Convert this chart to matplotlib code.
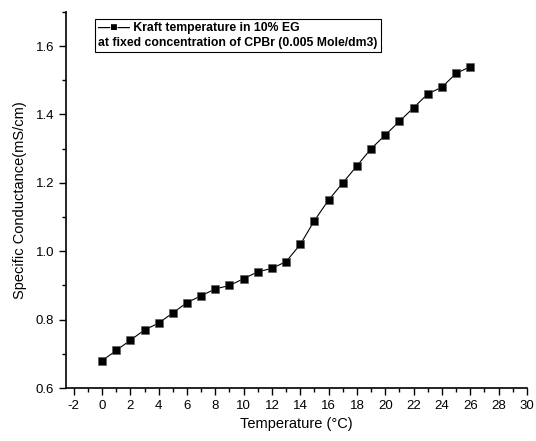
import numpy as np
import matplotlib
matplotlib.use("Agg")
import matplotlib.pyplot as plt
from matplotlib.ticker import MultipleLocator

plt.rcParams["font.family"] = ["Liberation Sans", "DejaVu Sans"]
plt.rcParams["axes.unicode_minus"] = False

# data
temperature = [0, 1, 2, 3, 4, 5, 6, 7, 8, 9, 10, 11, 12, 13,
               14, 15, 16, 17, 18, 19, 20, 21, 22, 23, 24, 25, 26]
conductance = [0.68, 0.71, 0.74, 0.77, 0.79, 0.82, 0.85, 0.87, 0.89, 0.90,
               0.92, 0.94, 0.95, 0.97, 1.02, 1.09, 1.15, 1.20, 1.25, 1.30,
               1.34, 1.38, 1.42, 1.46, 1.48, 1.52, 1.54]
legend_text = ("\u2014\u25a0\u2014 Kraft temperature in 10% EG\n"
               "at fixed concentration of CPBr (0.005 Mole/dm3)")

fig = plt.figure(figsize=(5.36, 4.41), dpi=100)
ax = fig.add_axes([0.123, 0.120, 0.860, 0.853])

ax.plot(temperature, conductance, color="black", lw=0.8,
        marker="s", ms=5.5, mfc="black", mec="#555555", mew=0.4)

ax.set_xlim(-2.55, 30)
ax.set_ylim(0.6, 1.7)
ax.xaxis.set_major_locator(MultipleLocator(2))
ax.xaxis.set_minor_locator(MultipleLocator(1))
ax.yaxis.set_major_locator(MultipleLocator(0.2))
ax.yaxis.set_minor_locator(MultipleLocator(0.1))
ax.yaxis.set_major_formatter(matplotlib.ticker.FormatStrFormatter("%.1f"))

for s in ["top", "right"]:
    ax.spines[s].set_visible(False)
for s in ["left", "bottom"]:
    ax.spines[s].set_linewidth(1.2)

ax.tick_params(which="major", direction="out", length=5, width=1.0, labelsize=9.5)
ax.tick_params(which="minor", direction="out", length=3, width=1.0)

ax.set_xlabel("Temperature (\u00b0C)", fontsize=10.5, labelpad=4)
ax.set_ylabel("Specific Conductance(mS/cm)", fontsize=10.5, labelpad=6)

ax.text(0.07, 0.972, legend_text, transform=ax.transAxes, fontsize=8.8,
        fontweight="bold", va="top", ha="left", linespacing=1.3,
        bbox=dict(boxstyle="square,pad=0.25", fc="white", ec="black", lw=0.8))

fig.savefig("out.png", dpi=100)
plt.close(fig)
